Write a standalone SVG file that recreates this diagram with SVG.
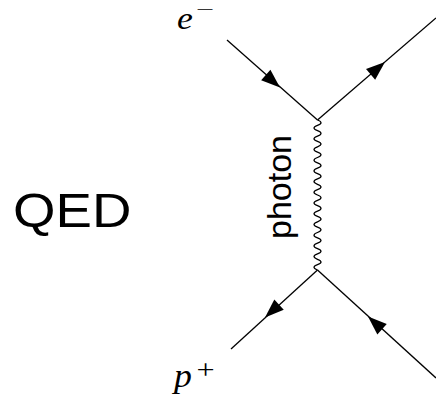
<svg xmlns="http://www.w3.org/2000/svg" width="436" height="398" viewBox="0 0 436 398">
<style>
.ln{stroke:#000;stroke-width:1.3;fill:none}
.ah{fill:#000;stroke:none}
.math{font-family:"Liberation Serif","Times New Roman",serif;fill:#000}
.sans{font-family:"Liberation Sans",Arial,sans-serif;fill:#000}
</style>
<defs>
<path id="arr" d="M0,0 L-19,-7 L-19,7 Z"/>
</defs>
<rect width="436" height="398" fill="#fff"/>
<g id="connectors">
<line class="ln" x1="227" y1="40" x2="317.5" y2="120"/>
<line class="ln" x1="317.5" y1="120" x2="436" y2="18"/>
<line class="ln" x1="317.5" y1="270" x2="231" y2="349"/>
<line class="ln" x1="317.5" y1="270" x2="436" y2="378"/>
<path class="ln" d="M317.5,120 q7,2.679 0,5.357 t0,5.357 t0,5.357 t0,5.357 t0,5.357 t0,5.357 t0,5.357 t0,5.357 t0,5.357 t0,5.357 t0,5.357 t0,5.357 t0,5.357 t0,5.357 t0,5.357 t0,5.357 t0,5.357 t0,5.357 t0,5.357 t0,5.357 t0,5.357 t0,5.357 t0,5.357 t0,5.357 t0,5.357 t0,5.357 t0,5.357 t0,5.357"/>
<use href="#arr" class="ah" transform="translate(280,87.5) rotate(41.5)"/>
<use href="#arr" class="ah" transform="translate(385,62) rotate(-40.7)"/>
<use href="#arr" class="ah" transform="translate(265,317.5) rotate(137.6)"/>
<use href="#arr" class="ah" transform="translate(368,316.5) rotate(222.3)"/>
</g>
<g id="label-electron">
<text class="math" font-style="italic" font-size="31" transform="translate(177,28.5) scale(1.15,1)">e</text>
<text class="math" font-size="16" transform="translate(196,14.5) scale(2,1)">−</text>
</g>
<g id="label-proton">
<text class="math" font-style="italic" font-size="34" transform="translate(174,387) scale(1.05,1)">p</text>
<text class="math" font-size="28" transform="translate(196.5,378.5) scale(1.15,1)">+</text>
</g>
<g id="label-qed">
<text class="sans" font-size="47.5" transform="translate(13,227) scale(1.15,1)">QED</text>
</g>
<g id="label-photon">
<text class="sans" font-size="34" text-anchor="middle" transform="translate(291,187) rotate(-90)">photon</text>
</g>
</svg>
